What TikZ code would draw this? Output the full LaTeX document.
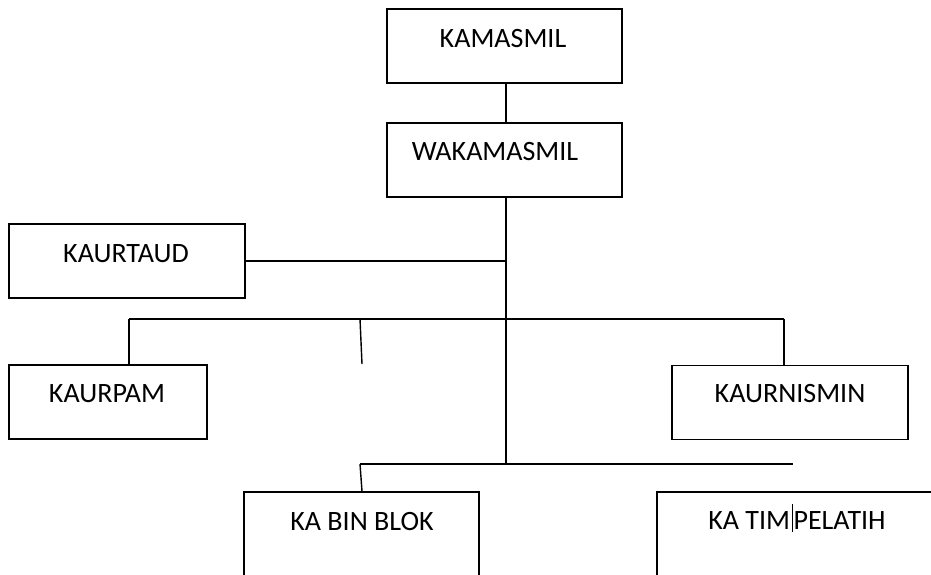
\documentclass[tikz,border=0pt]{standalone}
\usepackage{fontspec}
\setmainfont{Carlito}
\usepackage{tikz}
\usetikzlibrary{positioning}

\begin{document}
\begin{tikzpicture}[x=1pt,y=-1pt,
  bx/.style={draw,line width=1.4pt,minimum width=#1,minimum height=74pt,inner sep=0pt},bx/.default=235pt,
  tx/.style={font=\fontsize{28}{32}\selectfont,inner sep=0pt},
  ln/.style={line width=1.4pt}]
  \useasboundingbox (0,0) rectangle (931,574);
  \clip (0,0) rectangle (931,574);
  % boxes
  \node[bx] (kam) at (504.5,46) {};
  \node[bx] (wak) at (504.5,160) {};
  \node[bx=236pt] (taud) at (127,261) {};
  \node[bx=198pt] (pam) at (108,402) {};
  \node[bx=236pt] (nis) at (790,402.5) {};
  \node[bx,minimum height=120pt] (blok) at (361.5,552) {};
  \node[bx=300pt,minimum height=120pt] (pel) at (807,552) {};
  % texts
  \node[tx] (kamt) at (503,38.5) {KAMASMIL};
  \node[tx] (wakt) at (495,152) {WAKAMASMIL};
  \node[tx] (taudt) at (126,254) {KAURTAUD};
  \node[tx] (pamt) at (107,394) {KAURPAM};
  \node[tx] (nist) at (790,394) {KAURNISMIN};
  \node[tx] (blokt) at (362,521) {KA BIN BLOK};
  \node[tx] (pelt) at (797,521) {KA TIM\kern1.5pt\smash{\rule[-2pt]{0.5pt}{28pt}}\kern1.5pt PELATIH};
  % joints
  \coordinate (j1) at (506,262);
  \coordinate (j3) at (506,464);
  \coordinate (l2) at (129,319);
  \coordinate (r2) at (784,319);
  \coordinate (s1) at (360,319);
  \coordinate (s2) at (362,364);
  \coordinate (l3) at (360,464);
  \coordinate (r3) at (793,464);
  % connectors
  \draw[ln] (506,82 |- kam.south) -- (506,124 |- wak.north);
  \draw[ln] (506,196 |- wak.south) -- (j3);
  \draw[ln] (taud.east) -- (taud.east -| j1);
  \draw[ln] (l2) -- (r2);
  \draw[ln] (l2) -- (l2 |- pam.north);
  \draw[ln] (r2) -- (r2 |- nis.north);
  \draw[ln] (s1) -- (s2);
  \draw[ln] (l3) -- (r3);
  \draw[ln] (l3) -- (362,492 |- blok.north);
\end{tikzpicture}
\end{document}
